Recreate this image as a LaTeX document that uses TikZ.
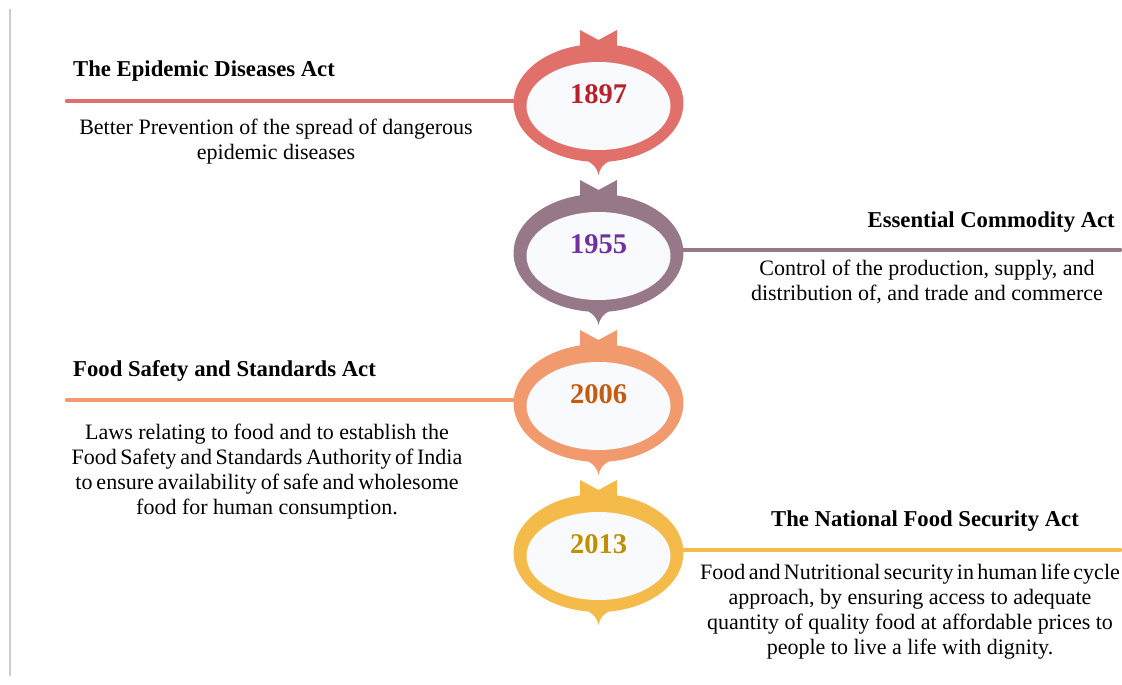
\documentclass[tikz,border=0pt]{standalone}
\usepackage{fontspec}
\setmainfont{Liberation Serif}
\usetikzlibrary{shapes.geometric}
\definecolor{ringA}{HTML}{E2706A}
\definecolor{ringB}{HTML}{977888}
\definecolor{ringC}{HTML}{F19A6E}
\definecolor{ringD}{HTML}{F4BA4A}
\definecolor{yrA}{HTML}{B8202A}
\definecolor{yrB}{HTML}{7030A0}
\definecolor{yrC}{HTML}{C55A11}
\definecolor{yrD}{HTML}{BF9000}
\definecolor{inner}{HTML}{F9FAFD}
\begin{document}
\begin{tikzpicture}[x=1pt, y=-1pt,
	yearbox/.style={ellipse, fill=inner, minimum width=144pt, minimum height=88pt, inner sep=0pt, text depth=24pt, font=\fontsize{28.5}{30}\selectfont\bfseries},
	actname/.style={inner sep=0pt, font=\fontsize{22.7}{26}\selectfont\bfseries},
	actnote/.style={inner sep=0pt, align=center, font=\fontsize{22}{25}\selectfont},
	link/.style={line width=4.5pt, line cap=round}]

	\useasboundingbox (0,0) rectangle (1122,685);
	\draw[black!20, line width=1.3pt] (10,9) -- (10,676);

	\foreach \cy/\col in {103/ringA, 253/ringB, 403/ringC, 553/ringD}
		\fill[\col, shift={(598.5,\cy)}] (-18.5,-73) -- (-18.5,-57.6)
			arc[start angle=257.4, end angle=96.8, x radius=85, y radius=59]
			.. controls (-5,61) and (-1,66) .. (0,72)
			.. controls (1,66) and (5,61) .. (10,58.6)
			arc[start angle=83.2, end angle=-77.4, x radius=85, y radius=59]
			-- (18.5,-73) -- (0,-63) -- cycle;

	\node[yearbox, text=yrA] (r1897) at (598.5,106) {1897};
	\node[yearbox, text=yrB] (r1955) at (598.5,256) {1955};
	\node[yearbox, text=yrC] (r2006) at (598.5,406) {2006};
	\node[yearbox, text=yrD] (r2013) at (598.5,556) {2013};

	\coordinate (e1897) at (67,101);
	\coordinate (e1955) at (1120,250);
	\coordinate (e2006) at (67,400);
	\coordinate (e2013) at (1120,550);
	\draw[link, ringA, shorten >=3pt] (e1897) -- (e1897 -| r1897.west);
	\draw[link, ringB, shorten <=3pt] (r1955.east |- e1955) -- (e1955);
	\draw[link, ringC, shorten >=3pt] (e2006) -- (e2006 -| r2006.west);
	\draw[link, ringD, shorten <=3pt] (r2013.east |- e2013) -- (e2013);

	\node[actname, anchor=west] (t1897) at (73,71) {The Epidemic Diseases Act};
	\node[actnote] (n1897) at (276,142) {Better Prevention of the spread of dangerous\\epidemic diseases};

	\node[actname, anchor=east] (t1955) at (1115,222) {Essential Commodity Act};
	\node[actnote] (n1955) at (927,282) {Control of the production, supply, and\\distribution of, and trade and commerce};

	\node[actname, anchor=west] (t2006) at (73,371) {Food Safety and Standards Act};
	\node[actnote] (n2006) at (267,472) {Laws relating to food and to establish the\\{\spaceskip=3.6pt Food Safety and Standards Authority of India}\\{\spaceskip=4pt to ensure availability of safe and wholesome}\\food for human consumption.};

	\node[actname] (t2013) at (925,521) {The National Food Security Act};
	\node[actnote] (n2013) at (910,612) {{\spaceskip=3.4pt Food and Nutritional security in human life cycle}\\approach, by ensuring access to adequate\\quantity of quality food at affordable prices to\\people to live a life with dignity.};
\end{tikzpicture}
\end{document}
